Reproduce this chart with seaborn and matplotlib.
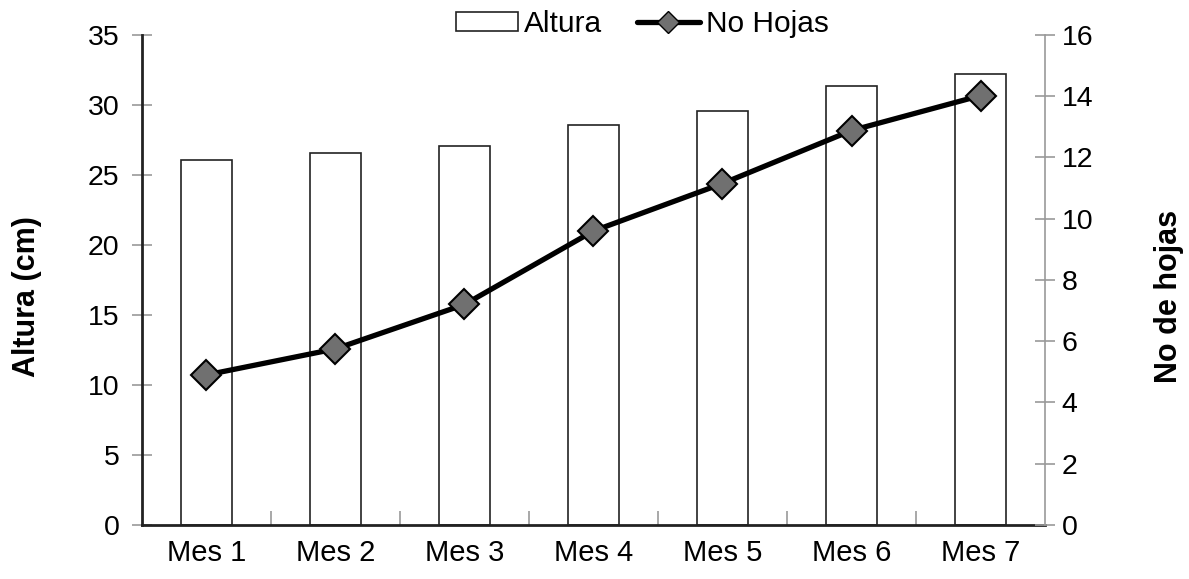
import matplotlib
matplotlib.use("Agg")
import matplotlib.pyplot as plt
import seaborn as sns
import numpy as np
import pandas as pd
from matplotlib.lines import Line2D
from matplotlib.patches import Patch

meses = ["Mes 1", "Mes 2", "Mes 3", "Mes 4", "Mes 5", "Mes 6", "Mes 7"]
altura = [26.1, 26.55, 27.1, 28.6, 29.6, 31.35, 32.2]
no_hojas = [4.9, 5.75, 7.2, 9.6, 11.15, 12.88, 14.02]

sns.set_theme(style="white")
plt.rcParams["font.family"] = ["Liberation Sans", "DejaVu Sans"]
plt.rcParams["text.color"] = "black"
plt.rcParams["axes.labelcolor"] = "black"
plt.rcParams["xtick.labelcolor"] = "black"
plt.rcParams["ytick.labelcolor"] = "black"

df = pd.DataFrame({"Mes": meses, "Altura": altura, "Hojas": no_hojas})

fig = plt.figure(figsize=(11.89, 5.79), dpi=100)
ax = fig.add_axes([0.1194, 0.0933, 0.7595, 0.8463])

sns.barplot(data=df, x="Mes", y="Altura", ax=ax, color="white",
            edgecolor="#222222", linewidth=1.2, width=0.4, saturation=1)
ax.set_ylim(0, 35)
ax.set_xlim(-0.5, 6.5)
ax.set_yticks(range(0, 36, 5))
ax.set_xlabel("")
ax.set_ylabel("Altura (cm)", fontsize=22, fontweight="bold", labelpad=33)
ax.yaxis.label.set_y(0.467)

ax2 = ax.twinx()
sns.lineplot(data=df, x="Mes", y="Hojas", ax=ax2, color="black", linewidth=3.8,
             marker="D", markersize=15, markerfacecolor="#707070",
             markeredgecolor="black", markeredgewidth=1.5)
ax2.set_ylim(0, 16)
ax2.set_yticks(range(0, 17, 2))
ax2.set_xlim(-0.5, 6.5)
ax2.set_ylabel("No de hojas", fontsize=22, fontweight="bold", labelpad=44)
ax2.yaxis.label.set_y(0.467)
ax2.set_xlabel("")

for a in (ax, ax2):
    for s in a.spines.values():
        s.set_visible(False)

ax.spines["left"].set_visible(True)
ax.spines["left"].set_color("#222222")
ax.spines["left"].set_linewidth(2)
ax.spines["bottom"].set_visible(True)
ax.spines["bottom"].set_color("#222222")
ax.spines["bottom"].set_linewidth(2)
ax2.spines["right"].set_visible(True)
ax2.spines["right"].set_color("#999999")
ax2.spines["right"].set_linewidth(1.2)

ax.tick_params(axis="y", direction="inout", length=14, width=1.2, color="#999999",
               labelsize=20.5, pad=9, left=True)
ax2.tick_params(axis="y", direction="inout", length=14, width=1.2, color="#999999",
                labelsize=20.5, pad=5, right=True)
ax.tick_params(axis="x", which="major", length=0, labelsize=21, pad=10)
ax.set_xticks(np.arange(0.5, 6.5, 1), minor=True)
ax.tick_params(axis="x", which="minor", direction="in", length=10, width=1.2,
               color="#999999", bottom=True)

handles = [
    Patch(facecolor="white", edgecolor="#222222", linewidth=1.2, label="Altura"),
    Line2D([0], [0], color="black", linewidth=3.8, marker="D", markersize=11,
           markerfacecolor="#707070", markeredgecolor="black", label="No Hojas"),
]
fig.legend(handles=handles, loc="center", bbox_to_anchor=(0.54, 0.958), ncol=2,
           frameon=False, fontsize=21.5, handlelength=2.1, handleheight=0.6,
           handletextpad=0.2, columnspacing=1.15, borderpad=0)

fig.savefig("out.png", dpi=100)
